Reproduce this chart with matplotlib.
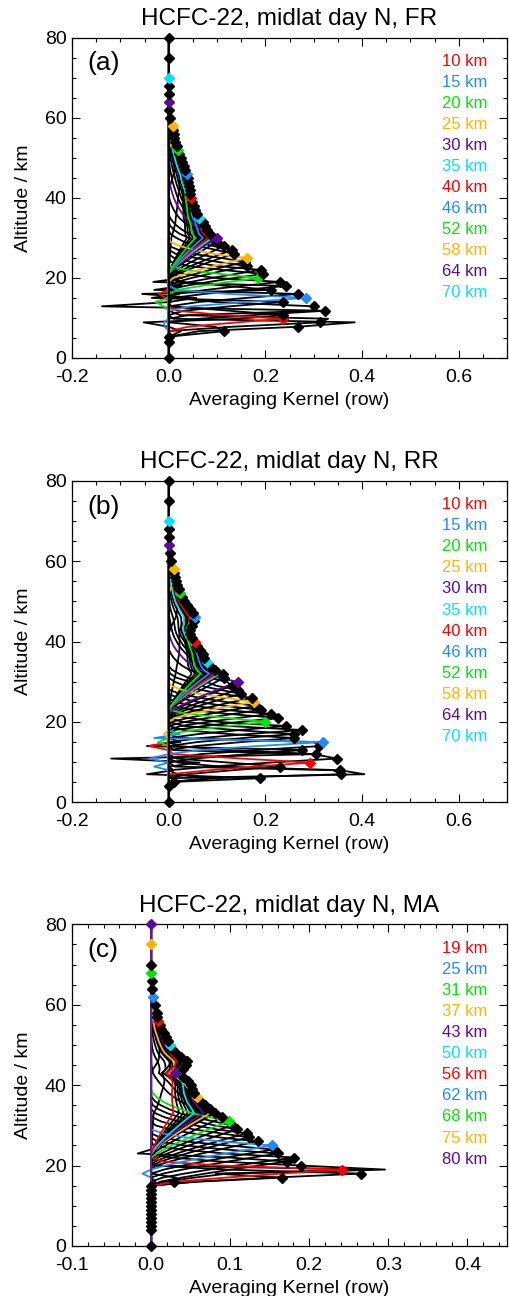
import numpy as np
import matplotlib
matplotlib.use('Agg')
import matplotlib.pyplot as plt
from matplotlib.ticker import MultipleLocator, FormatStrFormatter

plt.rcParams['font.family'] = ['Liberation Sans', 'DejaVu Sans']

# cores das linhas marcadas (ciclo)
cores = ['#ff0000', '#1e8cff', '#00e600', '#ffb400', '#5c0a9c', '#00e1ff']

# ---------------- FR ----------------
alt_fr = [0, 4, 5.3, 6.7, 7.8, 8.9, 9.8, 10.7, 11.8, 12.9, 14.0] + list(range(15, 58)) + \
         [58, 60, 62, 64, 66, 68, 70, 75, 80]
diag_fr = [0, 0, 0, 0.115, 0.268, 0.313, 0.237, 0.237, 0.324, 0.300, 0.237,
           0.284, 0.268, 0.211, 0.243, 0.230, 0.184, 0.196, 0.190, 0.162, 0.158,
           0.162, 0.135, 0.131, 0.115, 0.100, 0.100, 0.086, 0.080, 0.075, 0.070,
           0.062, 0.058, 0.055, 0.052, 0.049, 0.046, 0.045, 0.044, 0.042, 0.040,
           0.039, 0.038, 0.034, 0.031, 0.028, 0.025, 0.022, 0.019, 0.017, 0.014,
           0.012, 0.010, 0.009,
           0.008, 0.003, 0.001, 0, 0, 0, 0, 0, 0]
rotulos_fr = [10, 15, 20, 25, 30, 35, 40, 46, 52, 58, 64, 70]
# (linha, altitude, valor) fora da diagonal: lobulos e picos
extra_linha_fr = [7.8, 11.8, 10.7, 17, 14.0, 16, 18, 9.8, 9.8, 20, 20, 15, 15, 12.9, 8.9]
extra_alt_fr = [8.9, 12.9, 8.9, 16, 15, 17, 19, 16, 15, 14.0, 12.9, 8.9, 7.8, 11.8, 9.8]
extra_val_fr = [0.385, -0.138, -0.052, -0.055, -0.035, -0.030, -0.032, -0.020, -0.006,
                -0.028, -0.010, -0.010, -0.008, 0.30, 0.33]

# ---------------- RR ----------------
alt_rr = [0, 4.1, 5.1, 6.0, 7.0, 8.0, 8.9, 9.9, 10.9, 12.0, 13.0, 14.0] + list(range(15, 58)) + \
         [58, 60, 62, 64, 66, 68, 70, 75, 80]
diag_rr = [0, 0, 0.012, 0.188, 0.357, 0.355, 0.230, 0.293, 0.348, 0.305, 0.276, 0.312,
           0.319, 0.259, 0.259, 0.276, 0.243, 0.200, 0.226, 0.212, 0.190, 0.181,
           0.176, 0.172, 0.150, 0.143, 0.130, 0.143, 0.115, 0.112, 0.095, 0.085,
           0.079, 0.074, 0.070, 0.064, 0.058, 0.054, 0.048, 0.045, 0.044, 0.048,
           0.052, 0.055, 0.050, 0.044, 0.038, 0.032, 0.028, 0.024, 0.021, 0.018,
           0.015, 0.013, 0.011,
           0.010, 0.004, 0.002, 0, 0, 0, 0, 0, 0]
rotulos_rr = [10, 15, 20, 25, 30, 35, 40, 46, 52, 58, 64, 70]
extra_linha_rr = [8.0, 12.0, 6.0, 13.0, 15, 9.9, 15, 15, 20, 25, 10.9, 14.0, 7.0]
extra_alt_rr = [7.0, 10.9, 7.0, 14.0, 16, 14.0, 10.9, 8.9, 15, 17, 12.0, 15, 8.0]
extra_val_rr = [0.405, -0.119, -0.045, -0.045, -0.030, -0.040, -0.040, -0.030, -0.022, -0.010,
                0.30, 0.30, 0.34]

# ---------------- MA ----------------
alt_ma = [0] + list(range(4, 59)) + [60, 62, 64, 66, 68, 70, 75, 80]
diag_ma = [0] + [0] * 12 + \
          [0.029, 0.165, 0.266, 0.241, 0.190, 0.172, 0.181, 0.161, 0.155, 0.153,
           0.135, 0.124, 0.121, 0.109, 0.102, 0.098, 0.090, 0.081, 0.075, 0.068,
           0.062, 0.058, 0.054, 0.052, 0.050, 0.047, 0.040, 0.030, 0.040, 0.044,
           0.045, 0.038, 0.031, 0.027, 0.024, 0.021, 0.019, 0.016, 0.013, 0.011,
           0.009, 0.008, 0.0075,
           0.0054, 0.002, 0.001, 0.001, 0, 0, 0, 0]
rotulos_ma = [19, 25, 31, 37, 43, 50, 56, 62, 68, 75, 80]
extra_linha_ma = [20, 17, 21, 25]
extra_alt_ma = [19, 19, 23, 18]
extra_val_ma = [0.296, 0.28, -0.017, -0.011]


def matriz_kernel(alt, diag, joelho, base_z, base_v, sobe_z, sobe_v, desce_z, desce_v,
                  extra_linha, extra_alt, extra_val):
    z = np.asarray(alt, float)
    d = np.asarray(diag, float)
    A = np.zeros((len(z), len(z)))
    ik = np.argmin(abs(z - joelho))
    for i, zi in enumerate(z):
        l_up = np.interp(zi, sobe_z, sobe_v)
        l_dn = np.interp(zi, desce_z, desce_v)
        zk = min(zi, z[ik])
        zb = np.interp(min(zi, z[ik]), base_z, base_v)
        if zi <= z[ik]:
            ak = d[i]
        else:
            ak = d[ik] * max(0.0, 1 - (zi - z[ik]) / l_dn)
        for j, zj in enumerate(z):
            if zj >= zi:
                A[i, j] = d[j] * max(0.0, 1 - (zj - zi) / l_up) ** 1.5
            elif zj >= zk:
                A[i, j] = d[j] * max(0.0, 1 - (zi - zj) / l_dn)
            elif zk > zb:
                u = (zk - zj) / (zk - zb)
                A[i, j] = ak * max(0.0, 1 - u) ** 1.2
    for zl, za, v in zip(extra_linha, extra_alt, extra_val):
        A[np.argmin(abs(z - zl)), np.argmin(abs(z - za))] = v
    for i in range(len(z)):
        A[i, i] = d[i]
    return A


def painel(ax, alt, A, rotulos, titulo, letra):
    alt = np.asarray(alt, float)
    marcadas = {int(np.argmin(abs(alt - r))): k for k, r in enumerate(rotulos)}
    ultima = max(marcadas)
    for i in range(len(alt)):
        if i in marcadas:
            cor, zo = cores[marcadas[i] % 6], 3
        else:
            # linhas acima da ultima marcada ficam por cima de tudo
            cor, zo = 'black', (4 if i > ultima else 2)
        ax.plot(A[i], alt, color=cor, lw=1.3, zorder=zo)
        ax.plot(A[i, i], alt[i], 'D', color=cor, ms=4.8, mec=cor, zorder=5, clip_on=False)
    for k, r in enumerate(rotulos):
        ax.text(0.954, 0.926 - k * 0.0656, '%d km' % r, color=cores[k % 6],
                transform=ax.transAxes, ha='right', va='center', fontsize=12)
    ax.text(0.035, 0.92, letra, transform=ax.transAxes, ha='left', va='center', fontsize=19)
    ax.text(0.5, 1.058, titulo, transform=ax.transAxes, ha='center', va='center', fontsize=17.5)
    ax.set_ylim(0, 80)
    ax.yaxis.set_major_locator(MultipleLocator(20))
    ax.yaxis.set_minor_locator(MultipleLocator(5))
    ax.xaxis.set_major_formatter(FormatStrFormatter('%.1f'))
    ax.set_xlabel('Averaging Kernel (row)', fontsize=14, labelpad=4)
    ax.set_ylabel('Altitude / km', fontsize=14, labelpad=9)
    ax.tick_params(which='both', direction='in', top=True, right=True, labelsize=14, width=0.8)
    ax.tick_params(which='major', length=6, pad=8)
    ax.tick_params(which='minor', length=3)
    ax.tick_params(axis='y', pad=4)
    for s in ax.spines.values():
        s.set_linewidth(0.9)


fig = plt.figure(figsize=(5.09, 12.96), dpi=100)
ax_a = fig.add_axes([0.1415, 0.7238, 0.8546, 0.2470])
ax_b = fig.add_axes([0.1415, 0.3809, 0.8546, 0.2481])
ax_c = fig.add_axes([0.1415, 0.0386, 0.8546, 0.2482])

A_fr = matriz_kernel(alt_fr, diag_fr, 30, [6.7, 10, 15, 20, 25, 30], [5.7, 7.3, 12.3, 16.5, 19.5, 21.0],
                     [6, 15, 20, 25, 28, 31, 35], [2.2, 2.5, 3, 4.5, 8, 20, 40],
                     [30, 40, 50, 55, 57, 58, 64], [45, 55, 55, 40, 15, 6, 4],
                     extra_linha_fr, extra_alt_fr, extra_val_fr)
A_rr = matriz_kernel(alt_rr, diag_rr, 32, [6.0, 10, 15, 20, 25, 32], [5.0, 7.0, 12.3, 17.0, 20.5, 23.0],
                     [6, 15, 20, 25, 28, 32, 36], [2.2, 2.5, 3, 4.5, 6, 20, 40],
                     [32, 40, 50, 55, 57, 58, 64], [45, 55, 55, 40, 15, 6, 4],
                     extra_linha_rr, extra_alt_rr, extra_val_rr)
A_ma = matriz_kernel(alt_ma, diag_ma, 33, [16, 21, 25, 31, 33], [15.2, 15.4, 19.0, 22.0, 23.0],
                     [16, 19, 25, 31, 35, 40], [1.5, 2.5, 4, 8, 30, 40],
                     [33, 45, 52, 56, 58, 60, 66], [45, 55, 50, 35, 15, 8, 4],
                     extra_linha_ma, extra_alt_ma, extra_val_ma)

painel(ax_a, alt_fr, A_fr, rotulos_fr, 'HCFC-22, midlat day N, FR', '(a)')
painel(ax_b, alt_rr, A_rr, rotulos_rr, 'HCFC-22, midlat day N, RR', '(b)')
painel(ax_c, alt_ma, A_ma, rotulos_ma, 'HCFC-22, midlat day N, MA', '(c)')

for ax in (ax_a, ax_b):
    ax.set_xlim(-0.2, 0.7)
    ax.xaxis.set_major_locator(MultipleLocator(0.2))
    ax.xaxis.set_minor_locator(MultipleLocator(0.05))
ax_c.set_xlim(-0.1, 0.45)
ax_c.xaxis.set_major_locator(MultipleLocator(0.1))
ax_c.xaxis.set_minor_locator(MultipleLocator(0.02))

fig.savefig('out.png', dpi=100)
